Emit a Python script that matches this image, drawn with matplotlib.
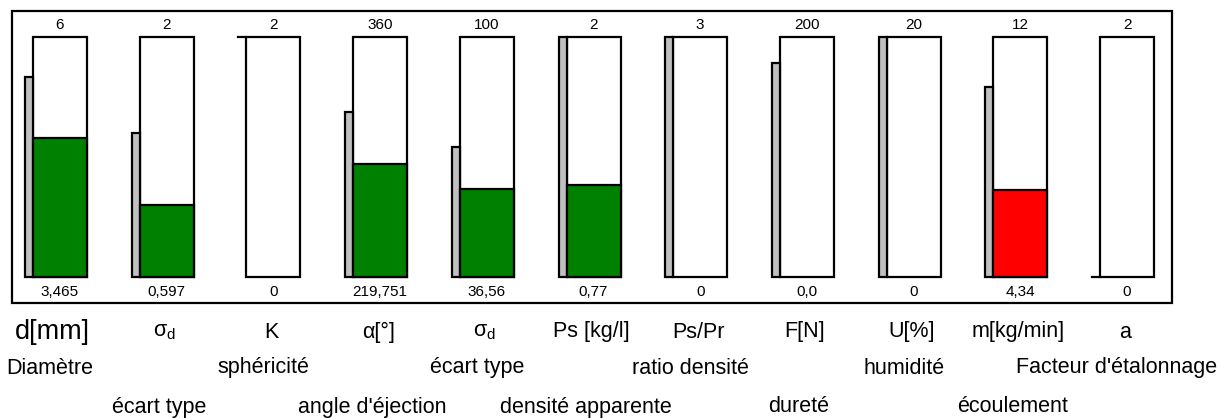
"""Gauge panel: measured granule properties vs their max scale."""

import matplotlib
matplotlib.use("Agg")
import matplotlib.pyplot as plt
from matplotlib.patches import Rectangle

plt.rcParams["font.family"] = ["Liberation Sans", "DejaVu Sans"]
plt.rcParams["mathtext.fontset"] = "custom"
plt.rcParams["mathtext.rm"] = "Liberation Sans"
plt.rcParams["mathtext.it"] = "Liberation Sans"

symbols = ["d[mm]", r"$\mathrm{σ}_{\mathrm{d}}$", "K", "α[°]", r"$\mathrm{σ}_{\mathrm{d}}$",
           "Ps [kg/l]", "Ps/Pr", "F[N]", "U[%]", "m[kg/min]", "a"]
max_values = [6, 2, 2, 360, 100, 2, 3, 200, 20, 12, 2]
value_labels = ["3,465", "0,597", "0", "219,751", "36,56", "0,77", "0", "0,0", "0", "4,34", "0"]
# fill level shown in each gauge (same units as max)
fill_levels = [3.465, 0.597, 0, 169.5, 36.56, 0.77, 0, 0.0, 0, 4.34, 0]
ref_values = [5.0, 1.2, 2, 247.5, 54, 2, 3, 178, 20, 9.5, 0]
ref_is_bar = [True, True, False, True, True, True, True, True, True, True, False]
fill_colors = ["#008000", "#008000", "#008000", "#008000", "#008000", "#008000",
               "#008000", "#008000", "#008000", "#ff0000", "#008000"]

# descriptions, two staggered rows: (gauge index, text)
desc_row1 = [(0, "Diamètre"), (2, "sphéricité"), (4, "écart type"),
             (6, "ratio densité"), (8, "humidité"), (10, "Facteur d'étalonnage")]
desc_row2 = [(1, "écart type"), (3, "angle d'éjection"), (5, "densité apparente"),
             (7, "dureté"), (9, "écoulement")]

W, H = 1225, 418
fig = plt.figure(figsize=(W / 100, H / 100), dpi=100)
ax = fig.add_axes([0, 0, 1, 1])
ax.set_xlim(0, W)
ax.set_ylim(H, 0)
ax.axis("off")

# outer frame
ax.add_patch(Rectangle((12, 11), 1160, 292, fill=False, ec="black", lw=1.6))

left0, step = 33, 106.7
gw, top, bottom = 54, 37, 277
gh = bottom - top
rw = 8


def center(i):
    return left0 + i * step + gw / 2


for i in range(len(max_values)):
    left = left0 + i * step
    cx = center(i)
    frac = fill_levels[i] / max_values[i]
    rfrac = ref_values[i] / max_values[i]

    ax.add_patch(Rectangle((left, top), gw, gh, fc="white", ec="black", lw=1.6, zorder=2))
    if frac > 0:
        ax.add_patch(Rectangle((left, bottom - frac * gh), gw, frac * gh,
                               fc=fill_colors[i], ec="black", lw=1.6, zorder=3))
    ry = bottom - rfrac * gh
    if ref_is_bar[i]:
        ax.add_patch(Rectangle((left - rw, ry), rw, rfrac * gh,
                               fc="#c0c0c0", ec="black", lw=1.6, zorder=2))
    else:
        ax.plot([left - rw, left], [ry, ry], color="black", lw=1.6, zorder=2)

    ax.text(cx, 25, str(max_values[i]), ha="center", va="center", fontsize=11)
    ax.text(cx, 292, value_labels[i], ha="center", va="center", fontsize=11)
    if i == 0:
        ax.text(cx - 8, 332, symbols[i], ha="center", va="center", fontsize=19.5)
    else:
        ax.text(cx - 2, 332, symbols[i], ha="center", va="center", fontsize=15.5)

for i, txt in desc_row1:
    ax.text(center(i) - 10, 368, txt, ha="center", va="center", fontsize=15.5)
for i, txt in desc_row2:
    ax.text(center(i) - 8, 407, txt, ha="center", va="center", fontsize=15.5)

fig.savefig("out.png", dpi=100)
plt.close(fig)
